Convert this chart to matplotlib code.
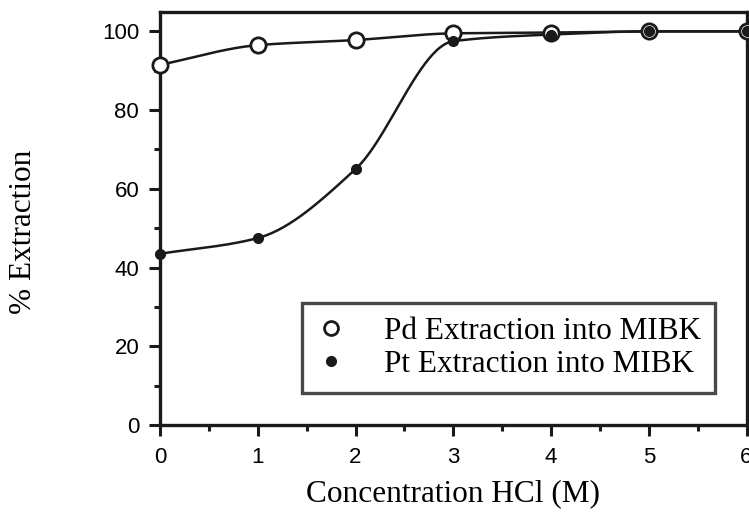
import numpy as np
import matplotlib
matplotlib.use("Agg")
import matplotlib.pyplot as plt
from matplotlib.ticker import MultipleLocator

# values
hcl = [0, 1, 2, 3, 4, 5, 6]
pd_ext = [91.5, 96.5, 97.8, 99.5, 99.7, 100, 100]
pt_ext = [43.5, 47.5, 65.0, 97.5, 99.2, 100, 100]

serif = ["Liberation Serif", "DejaVu Serif"]
sans = ["Liberation Sans", "DejaVu Sans"]


def smooth(x, y, n=300):
    # monotone cubic (Fritsch-Carlson) through the measured points
    x = np.asarray(x, float)
    y = np.asarray(y, float)
    h = np.diff(x)
    d = np.diff(y) / h
    m = np.zeros_like(y)
    m[0], m[-1] = d[0], d[-1]
    for i in range(1, len(y) - 1):
        if d[i - 1] * d[i] > 0:
            w1 = 2 * h[i] + h[i - 1]
            w2 = h[i] + 2 * h[i - 1]
            m[i] = (w1 + w2) / (w1 / d[i - 1] + w2 / d[i])
    xs = np.linspace(x[0], x[-1], n)
    k = np.clip(np.searchsorted(x, xs) - 1, 0, len(x) - 2)
    t = (xs - x[k]) / h[k]
    h00 = 2 * t**3 - 3 * t**2 + 1
    h10 = t**3 - 2 * t**2 + t
    h01 = -2 * t**3 + 3 * t**2
    h11 = t**3 - t**2
    ys = h00 * y[k] + h10 * h[k] * m[k] + h01 * y[k + 1] + h11 * h[k] * m[k + 1]
    return xs, ys


fig = plt.figure(figsize=(7.49, 5.13), dpi=100)
ax = fig.add_axes([0.2136, 0.1715, 0.7831, 0.8057])

xs, ys = smooth(hcl, pd_ext)
ax.plot(xs, ys, color="#1a1a1a", lw=1.8, clip_on=False)
xs, ys = smooth(hcl, pt_ext)
ax.plot(xs, ys, color="#1a1a1a", lw=1.8, clip_on=False)

ax.plot(hcl, pd_ext, ls="none", marker="o", ms=11, mfc="white", mec="#1a1a1a",
        mew=2, clip_on=False, zorder=3)
ax.plot(hcl, pt_ext, ls="none", marker="o", ms=7, mfc="#1a1a1a", mec="#1a1a1a",
        clip_on=False, zorder=4)

ax.set_xlim(0, 6)
ax.set_ylim(0, 105)
ax.xaxis.set_major_locator(MultipleLocator(1))
ax.xaxis.set_minor_locator(MultipleLocator(0.5))
ax.yaxis.set_major_locator(MultipleLocator(20))
ax.yaxis.set_minor_locator(MultipleLocator(10))
ax.tick_params(which="major", direction="out", length=8, width=2.2, pad=8,
               labelsize=16, color="#1a1a1a")
ax.tick_params(axis="y", which="major", pad=7)
ax.tick_params(which="minor", direction="out", length=4, width=2.2, color="#1a1a1a")
for lab in ax.get_xticklabels() + ax.get_yticklabels():
    lab.set_family(sans)
for s in ax.spines.values():
    s.set_linewidth(2.4)
    s.set_color("#1a1a1a")

ax.set_xlabel("Concentration HCl (M)", family=serif, fontsize=22.5, labelpad=8)
ax.set_ylabel("% Extraction", family=serif, fontsize=22.5)
ax.yaxis.set_label_coords(-0.208, 0.467)

h1, = ax.plot([], [], ls="none", marker="o", ms=10, mfc="white", mec="#1a1a1a", mew=2)
h2, = ax.plot([], [], ls="none", marker="o", ms=7, mfc="#1a1a1a", mec="#1a1a1a")
leg = ax.legend([h1, h2], ["Pd Extraction into MIBK", "Pt Extraction into MIBK"],
                loc="lower right", bbox_to_anchor=(0.946, 0.077),
                prop={"family": serif, "size": 22.5}, frameon=True, fancybox=False,
                handlelength=0.96, handletextpad=1.22, borderpad=0.45,
                labelspacing=0.14, borderaxespad=0)
leg.get_frame().set_edgecolor("#1a1a1a")
leg.get_frame().set_linewidth(2.4)

fig.savefig("out.png", dpi=100)
